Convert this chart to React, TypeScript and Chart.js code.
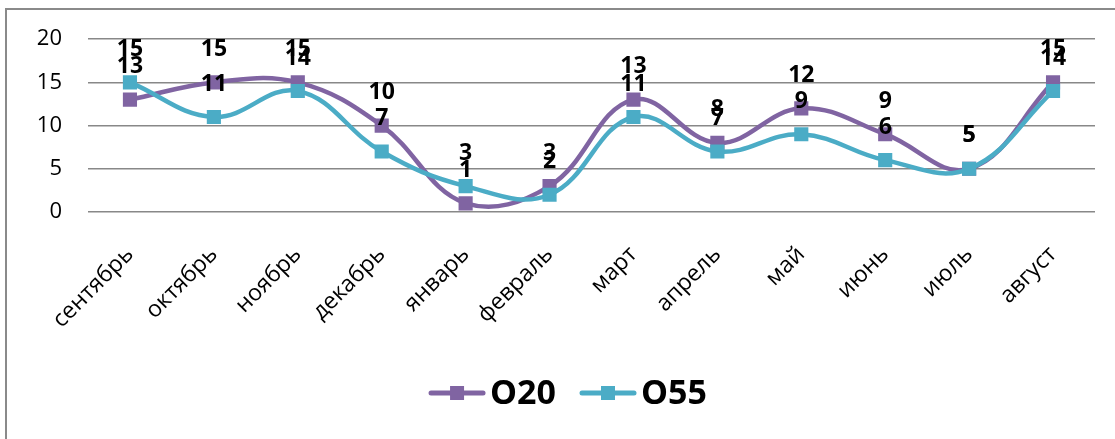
import React, { useEffect, useRef } from "react";
import { Chart, registerables } from "chart.js";

Chart.register(...registerables);

const categories = [
  "сентябрь", "октябрь", "ноябрь", "декабрь", "январь", "февраль",
  "март", "апрель", "май", "июнь", "июль", "август",
];
const seriesNames = ["O20", "O55"];
const o20Values = [13, 15, 15, 10, 1, 3, 13, 8, 12, 9, 5, 15];
const o55Values = [15, 11, 14, 7, 3, 2, 11, 7, 9, 6, 5, 14];
const yTicks = [0, 5, 10, 15, 20];

const PURPLE = "#8064A2";
const TEAL = "#4BACC6";
const FONT = "'Open Sans', 'Noto Sans', sans-serif";

const framePlugin = {
  id: "frame",
  beforeDraw(chart: any) {
    const { ctx, width, height } = chart;
    ctx.save();
    ctx.strokeStyle = "#8a8a8a";
    ctx.lineWidth = 2;
    ctx.beginPath();
    ctx.moveTo(6, height + 2);
    ctx.lineTo(6, 9);
    ctx.lineTo(width + 2, 9);
    ctx.stroke();
    ctx.restore();
  },
};

const dataLabelPlugin = {
  id: "dataLabels",
  afterDatasetsDraw(chart: any) {
    const { ctx } = chart;
    ctx.save();
    ctx.font = `bold 23px ${FONT}`;
    ctx.fillStyle = "#000";
    ctx.textAlign = "center";
    ctx.textBaseline = "middle";
    chart.data.datasets.forEach((ds: any, i: number) => {
      const meta = chart.getDatasetMeta(i);
      meta.data.forEach((el: any, j: number) => {
        ctx.fillText(String(ds.data[j]), el.x, el.y - 33);
      });
    });
    ctx.restore();
  },
};

const legendPlugin = {
  id: "customLegend",
  afterDraw(chart: any) {
    const { ctx } = chart;
    const centerX = 568;
    const y = 393;
    const lineLen = 56;
    const gapText = 5;
    const gapItem = 24;
    ctx.save();
    ctx.font = `bold 34px ${FONT}`;
    ctx.textBaseline = "middle";
    ctx.textAlign = "left";
    const items = chart.data.datasets.map((ds: any) => ({
      label: ds.label,
      color: ds.borderColor,
      w: ctx.measureText(ds.label).width,
    }));
    let total = 0;
    items.forEach((it: any, i: number) => {
      total += lineLen + gapText + it.w + (i < items.length - 1 ? gapItem : 0);
    });
    let x = centerX - total / 2;
    items.forEach((it: any) => {
      ctx.strokeStyle = it.color;
      ctx.lineWidth = 5;
      ctx.lineCap = "round";
      ctx.beginPath();
      ctx.moveTo(x + 2, y);
      ctx.lineTo(x + lineLen - 2, y);
      ctx.stroke();
      ctx.fillStyle = it.color;
      ctx.fillRect(x + lineLen / 2 - 7, y - 7, 14, 14);
      ctx.fillStyle = "#000";
      ctx.fillText(it.label, x + lineLen + gapText, y + 1);
      x += lineLen + gapText + it.w + gapItem;
    });
    ctx.restore();
  },
};

export default function App() {
  const canvasRef = useRef<HTMLCanvasElement | null>(null);

  useEffect(() => {
    if (!canvasRef.current) return;
    const chart = new Chart(canvasRef.current, {
      type: "line",
      data: {
        labels: categories,
        datasets: [
          {
            label: seriesNames[0],
            data: o20Values,
            borderColor: PURPLE,
            backgroundColor: PURPLE,
            borderWidth: 4.5,
            pointStyle: "rect",
            pointRadius: 10,
            pointBorderWidth: 0,
            tension: 0.4,
            order: 1,
          },
          {
            label: seriesNames[1],
            data: o55Values,
            borderColor: TEAL,
            backgroundColor: TEAL,
            borderWidth: 4.5,
            pointStyle: "rect",
            pointRadius: 10,
            pointBorderWidth: 0,
            tension: 0.4,
            order: 0,
          },
        ],
      },
      options: {
        responsive: false,
        animation: false,
        events: [],
        layout: { padding: { left: 0, top: 38, right: 20, bottom: 0 } },
        plugins: {
          legend: { display: false },
          tooltip: { enabled: false },
          title: { display: false },
        },
        scales: {
          x: {
            offset: true,
            grid: { display: false, drawTicks: false },
            border: { display: false },
            ticks: {
              autoSkip: false,
              maxRotation: 45,
              minRotation: 45,
              padding: 29,
              color: "#000",
              font: { family: FONT, size: 23 },
            },
            afterFit: (s: any) => {
              s.height = 227;
            },
          },
          y: {
            min: 0,
            max: 20,
            afterBuildTicks: (s: any) => {
              s.ticks = yTicks.map((v) => ({ value: v }));
            },
            grid: { color: "#888888", lineWidth: 1.6, drawTicks: false },
            border: { display: false },
            ticks: {
              padding: 26,
              color: "#000",
              font: { family: FONT, size: 22 },
            },
            afterFit: (s: any) => {
              s.width = 88;
            },
          },
        },
      },
      plugins: [framePlugin, dataLabelPlugin, legendPlugin],
    });
    return () => chart.destroy();
  }, []);

  return (
    <div style={{ position: "fixed", left: 0, top: 0, width: 1115, height: 439, background: "#fff" }}>
      <canvas ref={canvasRef} width={1115} height={439} />
    </div>
  );
}
